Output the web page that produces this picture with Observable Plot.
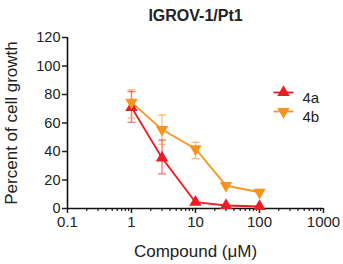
<!DOCTYPE html>
<html><head><meta charset="utf-8">
<script src="https://cdn.jsdelivr.net/npm/d3@7"></script>
<script src="https://cdn.jsdelivr.net/npm/@observablehq/plot@0.6"></script>
<style>body{margin:0;background:#fff;font-family:"Liberation Sans",Arial,sans-serif}</style>
</head><body><div id="chart"></div>
<script>
const concentrations = [1, 3, 10, 30, 100];
const series = ["4a", "4b"];
const values4a = [71, 35.5, 4.4, 2.1, 1.4];
const low4a = [60.5, 24.3, 4.4, 2.1, 1.4];
const high4a = [82, 48, 4.4, 2.1, 1.4];
const values4b = [74.5, 55.4, 41.9, 16.1, 11.4];
const low4b = [63.6, 45, 35, 16.1, 11.4];
const high4b = [83.3, 65.7, 46.5, 16.1, 11.4];
const colors = ["#ec1c24", "#f7941d"];
const xTicks = [0.1, 1, 10, 100, 1000];
const yTicks = [0, 20, 40, 60, 80, 100, 120];
const title = "IGROV-1/Pt1";
const xLabel = "Compound (\u03bcM)";
const yLabel = "Percent of cell growth";

const rows = [];
concentrations.forEach((c, i) => {
  rows.push({s: "4a", x: c, y: values4a[i], lo: low4a[i], hi: high4a[i]});
  rows.push({s: "4b", x: c, y: values4b[i], lo: low4b[i], hi: high4b[i]});
});
const minor = [];
for (let k = 0; k < xTicks.length - 1; k++) for (let m = 2; m <= 9; m++) minor.push(+(xTicks[k] * m).toPrecision(3));

const cap = {draw(ctx) { ctx.moveTo(-4, 0); ctx.lineTo(4, 0); }};
const seg = {draw(ctx) { ctx.moveTo(-10, 0); ctx.lineTo(10, 0); }};
const bars = rows.filter(d => d.hi > d.lo);
const R = 4.6;

const plot = Plot.plot({
  width: 343, height: 264,
  marginLeft: 67, marginRight: 20, marginTop: 37, marginBottom: 56,
  style: {fontFamily: "Liberation Sans, Arial, sans-serif", fontSize: "14px", color: "#222"},
  x: {type: "log", domain: [0.1, 1000]},
  y: {domain: [0, 120]},
  color: {domain: series, range: colors},
  marks: [
    Plot.axisX({ticks: minor, tickSize: 3, tickFormat: () => "", strokeWidth: 1.2, label: null}),
    Plot.axisX({ticks: xTicks, tickSize: 5, tickFormat: d => String(d), strokeWidth: 1.5, tickPadding: 3, fontSize: 15, label: null}),
    Plot.axisY({ticks: yTicks, tickSize: 5, strokeWidth: 1.5, tickPadding: 2, fontSize: 14.5, label: null}),
    Plot.ruleY([0], {stroke: "#111", strokeWidth: 1.6}),
    Plot.ruleX([0.1], {stroke: "#111", strokeWidth: 1.6}),
    Plot.ruleX(bars, {x: "x", y1: "lo", y2: "hi", stroke: "s", strokeOpacity: 0.6, strokeWidth: 1.3}),
    Plot.dot(bars, {x: "x", y: "lo", stroke: "s", symbol: cap, strokeOpacity: 0.6, strokeWidth: 1.3, fill: "none"}),
    Plot.dot(bars, {x: "x", y: "hi", stroke: "s", symbol: cap, strokeOpacity: 0.6, strokeWidth: 1.3, fill: "none"}),
    Plot.line(rows, {x: "x", y: "y", z: "s", stroke: "s", strokeWidth: 1.8}),
    Plot.dot(rows.filter(d => d.s === "4a"), {x: "x", y: "y", fill: colors[0], symbol: "triangle", r: R, stroke: null}),
    Plot.dot(rows.filter(d => d.s === "4b"), {x: "x", y: "y", fill: colors[1], symbol: "triangle", r: R, rotate: 180, stroke: null}),
    // legend
    Plot.dot([series[0]], {frameAnchor: "top-left", dx: 216, dy: 55, stroke: colors[0], symbol: seg, strokeWidth: 1.8}),
    Plot.dot([series[0]], {frameAnchor: "top-left", dx: 216, dy: 55, fill: colors[0], symbol: "triangle", r: R, stroke: null}),
    Plot.dot([series[1]], {frameAnchor: "top-left", dx: 216, dy: 74, stroke: colors[1], symbol: seg, strokeWidth: 1.8}),
    Plot.dot([series[1]], {frameAnchor: "top-left", dx: 216, dy: 74, fill: colors[1], symbol: "triangle", r: R, rotate: 180, stroke: null}),
    Plot.text([series[0]], {frameAnchor: "top-left", dx: 235, dy: 55, text: d => d, textAnchor: "start", fontSize: 15, fill: "#222"}),
    Plot.text([series[1]], {frameAnchor: "top-left", dx: 235, dy: 74, text: d => d, textAnchor: "start", fontSize: 15, fill: "#222"}),
    // title and axis labels
    Plot.text([title], {frameAnchor: "top", dy: -28, text: d => d, fontWeight: "bold", fontSize: 16, fill: "#222"}),
    Plot.text([xLabel], {frameAnchor: "bottom", dy: 48, text: d => d, fontSize: 17, fill: "#222"}),
    Plot.text([yLabel], {frameAnchor: "left", dx: -56, rotate: -90, textAnchor: "middle", text: d => d, fontSize: 17, fill: "#222"})
  ]
});
document.getElementById("chart").appendChild(plot);
</script></body></html>
